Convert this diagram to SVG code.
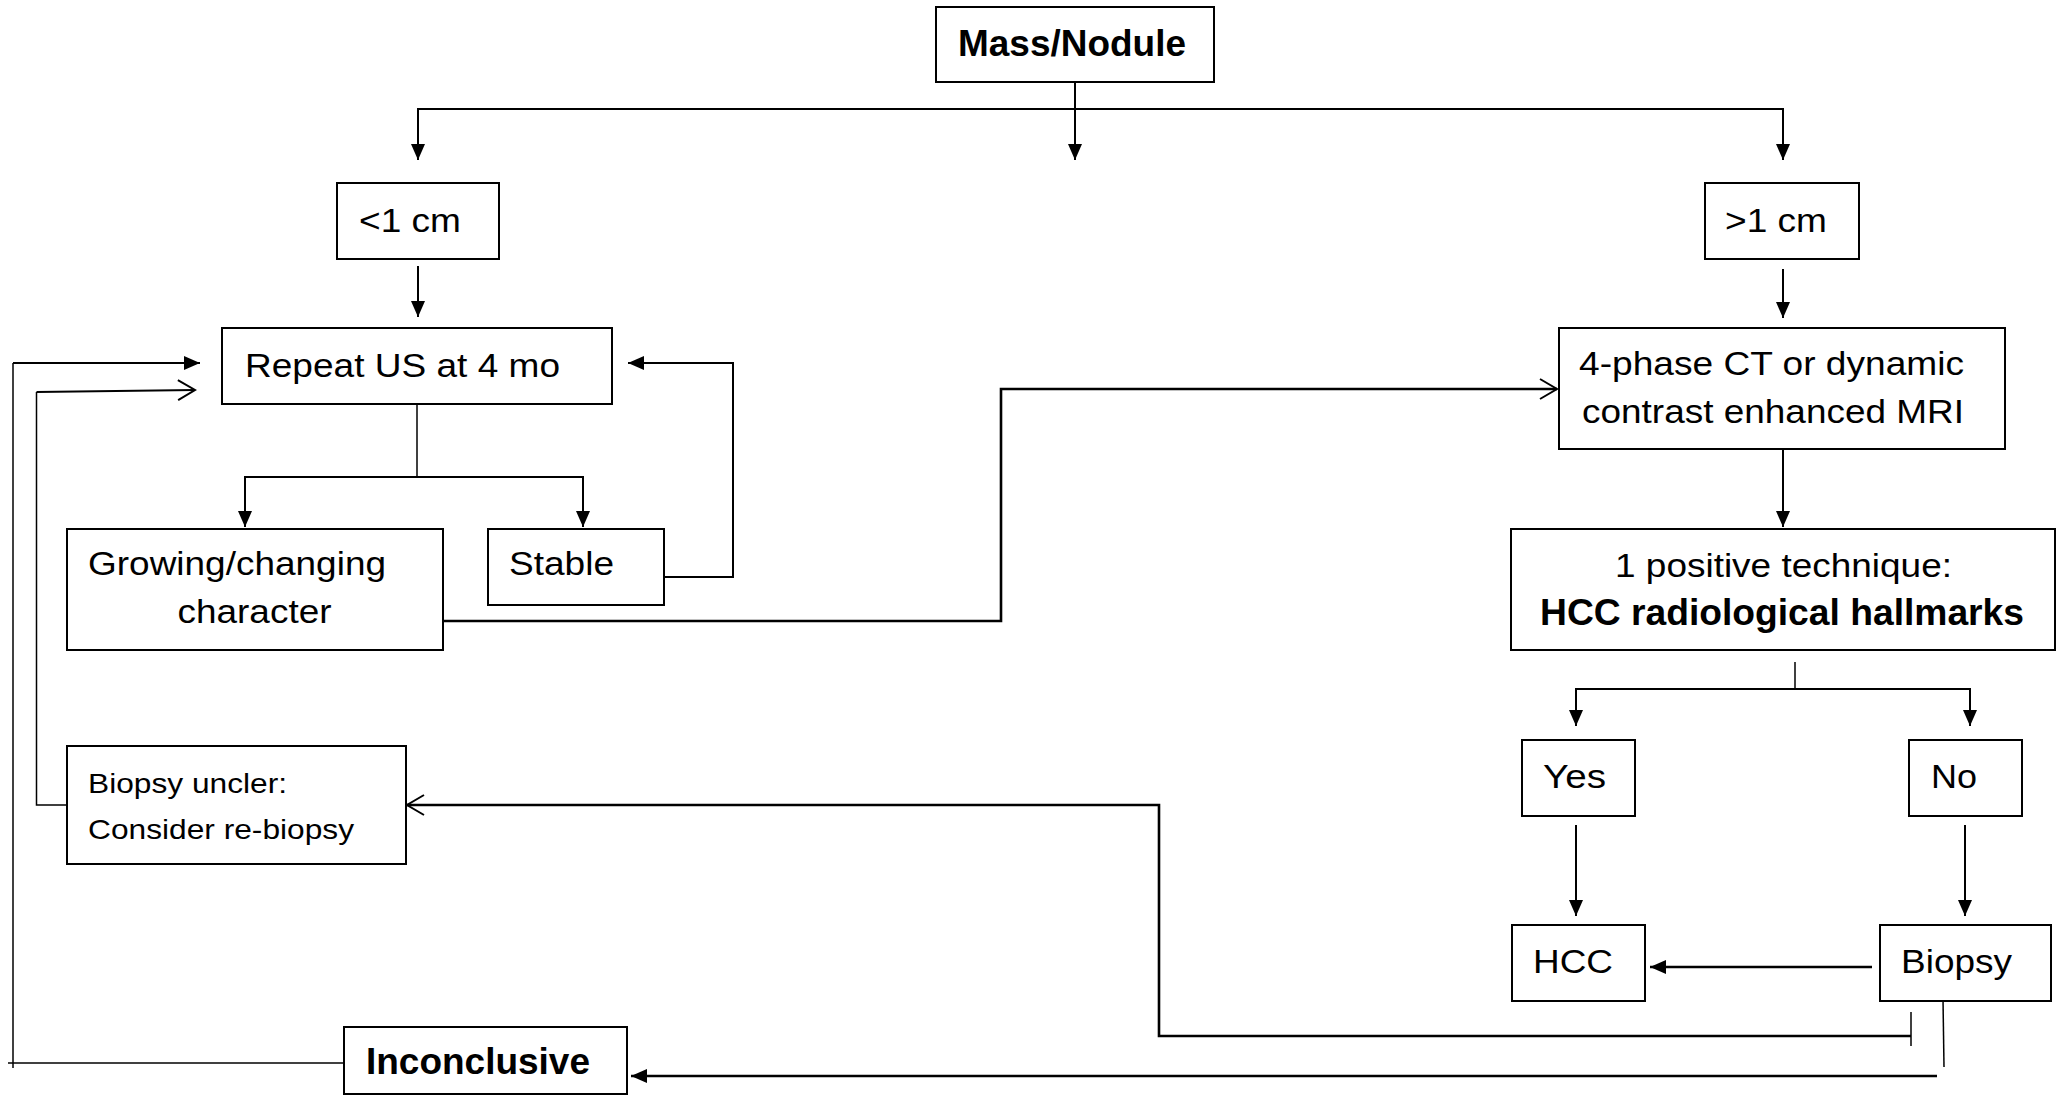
<svg xmlns="http://www.w3.org/2000/svg" width="2058" height="1095" viewBox="0 0 2058 1095">
<style>
.box{fill:#fff;stroke:#000;stroke-width:2}
.t{font-family:"Liberation Sans",Arial,sans-serif;font-size:33px;fill:#000}
.b{font-weight:bold;font-size:36px}
.s{font-size:28px}
.c{fill:none;stroke:#000;stroke-width:2}
.thin{stroke-width:1.5}
.thick{stroke-width:2.6}
</style>
<defs>
<marker id="fa" markerUnits="userSpaceOnUse" markerWidth="16" markerHeight="14" refX="16" refY="7" orient="auto">
<path d="M0,0 L16,7 L0,14 z" fill="#000"/>
</marker>
<marker id="oa" markerUnits="userSpaceOnUse" markerWidth="20" markerHeight="24" refX="18" refY="11" orient="auto">
<path d="M1,1 L18,11 L1,21" fill="none" stroke="#000" stroke-width="2"/>
</marker>
</defs>

<g id="connectors">
<path class="c" d="M1075,82 V160" marker-end="url(#fa)"/>
<path class="c" d="M1075,109 H418 V160" marker-end="url(#fa)"/>
<path class="c" d="M1075,109 H1783 V160" marker-end="url(#fa)"/>
<path class="c" d="M418,266 V317" marker-end="url(#fa)"/>
<path class="c" d="M1783,269 V318" marker-end="url(#fa)"/>
<path class="c thin" d="M417,404 V477"/>
<path class="c" d="M417,477 H245 V527" marker-end="url(#fa)"/>
<path class="c" d="M417,477 H583 V527" marker-end="url(#fa)"/>
<path class="c" d="M664,577 H733 V363 H628" marker-end="url(#fa)"/>
<path class="c thick" d="M443,621 H1001 V389 H1557" marker-end="url(#oa)"/>
<path class="c" d="M1783,449 V527" marker-end="url(#fa)"/>
<path class="c thin" d="M1795,662 V689"/>
<path class="c" d="M1795,689 H1576 V726" marker-end="url(#fa)"/>
<path class="c" d="M1795,689 H1970 V726" marker-end="url(#fa)"/>
<path class="c" d="M1576,825 V916" marker-end="url(#fa)"/>
<path class="c" d="M1965,825 V916" marker-end="url(#fa)"/>
<path class="c thick" d="M1872,967 H1650" marker-end="url(#fa)"/>
<path class="c thin" d="M1911,1012 V1046"/>
<path class="c thick" d="M1911,1036 H1159 V805 H407" marker-end="url(#oa)"/>
<path class="c thin" d="M1943,999 L1944,1067"/>
<path class="c thick" d="M1937,1076 H631" marker-end="url(#fa)"/>
<path class="c thin" d="M344,1063 H8"/>
<path class="c thin" d="M13,1068 V363"/>
<path class="c" d="M13,363 H200" marker-end="url(#fa)"/>
<path class="c thin" d="M67,805 H36.5 V392"/>
<path class="c" d="M36.5,392 L195,390" marker-end="url(#oa)"/>
</g>

<g id="n-mass"><rect class="box" x="936" y="7" width="278" height="75"/><text class="t b" x="958" y="56" textLength="228" lengthAdjust="spacingAndGlyphs">Mass/Nodule</text></g>
<g id="n-lt1"><rect class="box" x="337" y="183" width="162" height="76"/><text class="t" x="359" y="232" textLength="102" lengthAdjust="spacingAndGlyphs">&lt;1 cm</text></g>
<g id="n-gt1"><rect class="box" x="1705" y="183" width="154" height="76"/><text class="t" x="1725" y="232" textLength="102" lengthAdjust="spacingAndGlyphs">&gt;1 cm</text></g>
<g id="n-repeat"><rect class="box" x="222" y="328" width="390" height="76"/><text class="t" x="245" y="377" textLength="315" lengthAdjust="spacingAndGlyphs">Repeat US at 4 mo</text></g>
<g id="n-ct"><rect class="box" x="1559" y="328" width="446" height="121"/><text class="t" x="1579" y="375" textLength="385" lengthAdjust="spacingAndGlyphs">4-phase CT or dynamic</text><text class="t" x="1582" y="423" textLength="382" lengthAdjust="spacingAndGlyphs">contrast enhanced MRI</text></g>
<g id="n-growing"><rect class="box" x="67" y="529" width="376" height="121"/><text class="t" x="88" y="575" textLength="298" lengthAdjust="spacingAndGlyphs">Growing/changing</text><text class="t" x="177.5" y="623" textLength="154" lengthAdjust="spacingAndGlyphs">character</text></g>
<g id="n-stable"><rect class="box" x="488" y="529" width="176" height="76"/><text class="t" x="509" y="575" textLength="105" lengthAdjust="spacingAndGlyphs">Stable</text></g>
<g id="n-positive"><rect class="box" x="1511" y="529" width="544" height="121"/><text class="t" x="1615" y="577" textLength="337" lengthAdjust="spacingAndGlyphs">1 positive technique:</text><text class="t b" x="1540" y="625" font-size="34" textLength="484" lengthAdjust="spacingAndGlyphs">HCC radiological hallmarks</text></g>
<g id="n-yes"><rect class="box" x="1522" y="740" width="113" height="76"/><text class="t" x="1543" y="788" textLength="63" lengthAdjust="spacingAndGlyphs">Yes</text></g>
<g id="n-no"><rect class="box" x="1909" y="740" width="113" height="76"/><text class="t" x="1931" y="788" textLength="46" lengthAdjust="spacingAndGlyphs">No</text></g>
<g id="n-hcc"><rect class="box" x="1512" y="925" width="133" height="76"/><text class="t" x="1533" y="973" textLength="80" lengthAdjust="spacingAndGlyphs">HCC</text></g>
<g id="n-biopsy"><rect class="box" x="1880" y="925" width="171" height="76"/><text class="t" x="1901" y="973" textLength="111" lengthAdjust="spacingAndGlyphs">Biopsy</text></g>
<g id="n-unclear"><rect class="box" x="67" y="746" width="339" height="118"/><text class="t s" x="88" y="792.5" textLength="199" lengthAdjust="spacingAndGlyphs">Biopsy uncler:</text><text class="t s" x="88" y="839" textLength="266" lengthAdjust="spacingAndGlyphs">Consider re-biopsy</text></g>
<g id="n-inconclusive"><rect class="box" x="344" y="1027" width="283" height="67"/><text class="t b" x="366" y="1074" textLength="224" lengthAdjust="spacingAndGlyphs">Inconclusive</text></g>
</svg>
